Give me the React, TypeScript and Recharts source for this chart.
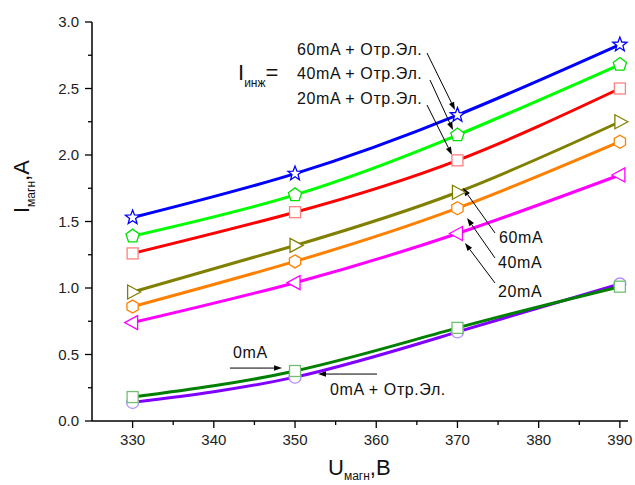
import React from "react";
import { LineChart, Line, XAxis, YAxis, ReferenceLine } from "recharts";

// U_magn, V
const voltages = [330, 350, 370, 390];

// I_magn, A for each injection current
const i60Refl = [1.53, 1.86, 2.3, 2.83];
const i40Refl = [1.39, 1.7, 2.15, 2.68];
const i20Refl = [1.26, 1.57, 1.96, 2.5];
const i60 = [0.97, 1.32, 1.72, 2.25];
const i40 = [0.86, 1.2, 1.6, 2.1];
const i20 = [0.74, 1.04, 1.41, 1.85];
const i0Refl = [0.14, 0.33, 0.67, 1.03];
const i0 = [0.18, 0.376, 0.7, 1.01];

const xTicks = [330, 335, 340, 345, 350, 355, 360, 365, 370, 375, 380, 385, 390];
const yTicks = [0, 0.25, 0.5, 0.75, 1, 1.25, 1.5, 1.75, 2, 2.25, 2.5, 2.75, 3];

const FONT = "'Liberation Sans', Arial, sans-serif";

const data = voltages.map((u, i) => ({
  u,
  i60Refl: i60Refl[i],
  i40Refl: i40Refl[i],
  i20Refl: i20Refl[i],
  i60: i60[i],
  i40: i40[i],
  i20: i20[i],
  i0Refl: i0Refl[i],
  i0: i0[i],
}));

// annotation arrows in data units: [x1, y1, x2, y2], head at second point
const arrows = [
  [366.25, 2.767, 369.7, 2.338],
  [366.62, 2.564, 369.45, 2.188],
  [366.25, 2.376, 369.33, 2.0],
  [374.62, 1.414, 370.68, 1.752],
  [374.62, 1.226, 371.18, 1.526],
  [374.62, 1.038, 370.93, 1.338],
  [341.99, 0.398, 348.4, 0.398],
  [360.09, 0.353, 352.83, 0.353],
];

const poly = (cx: number, cy: number, n: number, r: number, rot: number) => {
  const pts = [];
  for (let k = 0; k < n; k++) {
    const a = rot + (k * 2 * Math.PI) / n;
    pts.push(`${cx + r * Math.cos(a)},${cy + r * Math.sin(a)}`);
  }
  return pts.join(" ");
};

const star = (cx: number, cy: number, R: number, r: number) => {
  const pts = [];
  for (let k = 0; k < 10; k++) {
    const a = -Math.PI / 2 + (k * Math.PI) / 5;
    const rr = k % 2 === 0 ? R : r;
    pts.push(`${cx + rr * Math.cos(a)},${cy + rr * Math.sin(a)}`);
  }
  return pts.join(" ");
};

const makeDot = (shape: string, stroke: string) => (p: any) => {
  const { cx, cy, index } = p;
  const common = { fill: "#fff", stroke, strokeWidth: 1.3 };
  let el;
  if (shape === "star") el = <polygon points={star(cx, cy, 7.5, 3.2)} {...common} />;
  else if (shape === "pentagon") el = <polygon points={poly(cx, cy, 5, 7, -Math.PI / 2)} {...common} />;
  else if (shape === "square") el = <rect x={cx - 5.5} y={cy - 5.5} width={11} height={11} {...common} />;
  else if (shape === "triRight") el = <polygon points={`${cx + 8},${cy} ${cx - 5},${cy - 7} ${cx - 5},${cy + 7}`} {...common} />;
  else if (shape === "triLeft") el = <polygon points={`${cx - 8},${cy} ${cx + 5},${cy - 7} ${cx + 5},${cy + 7}`} {...common} />;
  else if (shape === "hexagon") el = <polygon points={poly(cx, cy, 6, 6.5, -Math.PI / 2)} {...common} />;
  else el = <circle cx={cx} cy={cy} r={6} {...common} />;
  return <g key={`${shape}-${index}`}>{el}</g>;
};

const Arrow = (p: any) => {
  const { x1, y1, x2, y2 } = p;
  const ang = Math.atan2(y2 - y1, x2 - x1);
  const L = 8;
  const W = 2.8;
  const bx = x2 - L * Math.cos(ang);
  const by = y2 - L * Math.sin(ang);
  const nx = -Math.sin(ang) * W;
  const ny = Math.cos(ang) * W;
  return (
    <g>
      <line x1={x1} y1={y1} x2={bx} y2={by} stroke="#000" strokeWidth={1} />
      <polygon points={`${x2},${y2} ${bx + nx},${by + ny} ${bx - nx},${by - ny}`} fill="#000" />
    </g>
  );
};

const XTick = (p: any) => {
  const { x, y, payload } = p;
  const major = payload.value % 10 === 0;
  return (
    <g>
      <line x1={x} y1={y} x2={x} y2={y + (major ? 7 : 4)} stroke="#000" strokeWidth={1.3} />
      {major && (
        <text x={x} y={y + 24} textAnchor="middle" fontSize={15} fontFamily={FONT} fill="#222">
          {payload.value}
        </text>
      )}
    </g>
  );
};

const YTick = (p: any) => {
  const { x, y, payload } = p;
  const major = Math.abs(payload.value * 2 - Math.round(payload.value * 2)) < 1e-6;
  return (
    <g>
      <line x1={x} y1={y} x2={x - (major ? 7 : 4)} y2={y} stroke="#000" strokeWidth={1.3} />
      {major && (
        <text x={x - 13} y={y + 5} textAnchor="end" fontSize={15} fontFamily={FONT} fill="#222">
          {payload.value.toFixed(1)}
        </text>
      )}
    </g>
  );
};

const series = [
  { key: "i0Refl", color: "#8000ff", mark: "#b38cff", shape: "circle" },
  { key: "i0", color: "#008000", mark: "#70c070", shape: "square" },
  { key: "i20", color: "#ff00ff", mark: "#ff00ff", shape: "triLeft" },
  { key: "i40", color: "#ff8000", mark: "#ff8000", shape: "hexagon" },
  { key: "i60", color: "#808000", mark: "#808000", shape: "triRight" },
  { key: "i20Refl", color: "#ff0000", mark: "#ff8080", shape: "square" },
  { key: "i40Refl", color: "#00ff00", mark: "#00e000", shape: "pentagon" },
  { key: "i60Refl", color: "#0000ff", mark: "#0000ff", shape: "star" },
];

const txt = { fontFamily: FONT, fill: "#111" };
const note = { ...txt, fontSize: 16, letterSpacing: 0.6 };

export default function App() {
  return (
    <div style={{ position: "absolute", left: 0, top: 0, width: 635, height: 485, background: "#fff" }}>
      <LineChart width={635} height={485} data={data} margin={{ top: 22, right: 7, bottom: 0, left: 0 }}>
        <XAxis
          dataKey="u"
          type="number"
          domain={[325, 391]}
          ticks={xTicks}
          interval={0}
          height={64}
          tickSize={0}
          tickMargin={0}
          tickLine={false}
          tick={<XTick />}
          axisLine={{ stroke: "#000", strokeWidth: 1.5 }}
        />
        <YAxis
          type="number"
          domain={[0, 3]}
          ticks={yTicks}
          interval={0}
          width={92}
          tickSize={0}
          tickMargin={0}
          tickLine={false}
          tick={<YTick />}
          axisLine={{ stroke: "#000", strokeWidth: 1.5 }}
        />
        {series.map((s) => (
          <Line
            key={s.key}
            dataKey={s.key}
            type="natural"
            stroke={s.color}
            strokeWidth={3}
            dot={makeDot(s.shape, s.mark)}
            activeDot={false}
            isAnimationActive={false}
          />
        ))}
        {arrows.map((a, i) => (
          <ReferenceLine
            key={`arrow-${i}`}
            segment={[
              { x: a[0], y: a[1] },
              { x: a[2], y: a[3] },
            ]}
            shape={<Arrow />}
          />
        ))}
      </LineChart>
      <svg width={635} height={485} style={{ position: "absolute", left: 0, top: 0, pointerEvents: "none" }}>
        <text transform="translate(29, 213) rotate(-90)" {...txt}>
          <tspan fontSize={22}>I</tspan>
          <tspan fontSize={12} dy={6}>магн</tspan>
          <tspan fontSize={22} dy={-6}>,A</tspan>
        </text>
        <text x={328} y={475} {...txt}>
          <tspan fontSize={22}>U</tspan>
          <tspan fontSize={12} dy={5}>магн</tspan>
          <tspan fontSize={22} dy={-5}>,B</tspan>
        </text>
        <text x={238} y={80} {...txt}>
          <tspan fontSize={22}>I</tspan>
          <tspan fontSize={12} dy={7}>инж</tspan>
          <tspan fontSize={22} dy={-7}>=</tspan>
        </text>
        <text x={297} y={55} {...note}>60mA + Отр.Эл.</text>
        <text x={297} y={79} {...note}>40mA + Отр.Эл.</text>
        <text x={297} y={104} {...note}>20mA + Отр.Эл.</text>
        <text x={499} y={243} {...note}>60mA</text>
        <text x={498} y={268} {...note}>40mA</text>
        <text x={498} y={297} {...note}>20mA</text>
        <text x={233} y={358} {...note}>0mA</text>
        <text x={330} y={395} {...note}>0mA + Отр.Эл.</text>
      </svg>
    </div>
  );
}
